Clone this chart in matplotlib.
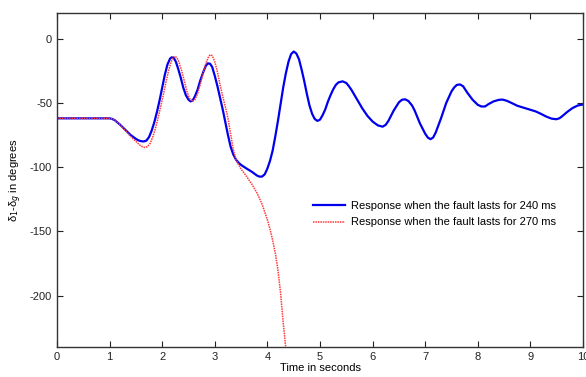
import matplotlib
matplotlib.use("Agg")
import matplotlib.pyplot as plt

plt.rcParams['font.family'] = ['Liberation Sans', 'DejaVu Sans']
plt.rcParams['font.size'] = 8
plt.rcParams['axes.unicode_minus'] = False

# response for 240 ms fault
t_240 = [0.0, 0.5, 1.0, 1.05, 1.1, 1.2, 1.3, 1.4, 1.5, 1.55, 1.6, 1.65, 1.7,
         1.75, 1.8, 1.85, 1.9, 1.95, 2.0, 2.05, 2.1, 2.15, 2.18, 2.22, 2.26,
         2.3, 2.35, 2.4, 2.45, 2.5, 2.54, 2.58, 2.62, 2.67, 2.72, 2.78, 2.83,
         2.87, 2.91, 2.95, 3.0, 3.05, 3.1, 3.15, 3.2, 3.25, 3.3, 3.35, 3.4,
         3.45, 3.5, 3.6, 3.7, 3.75, 3.8, 3.85, 3.9, 3.95, 4.0, 4.05, 4.1, 4.15,
         4.2, 4.25, 4.3, 4.35, 4.4, 4.45, 4.5, 4.55, 4.6, 4.65, 4.7, 4.75, 4.8,
         4.85, 4.9, 4.95, 5.0, 5.05, 5.1, 5.15, 5.2, 5.25, 5.3, 5.35, 5.43,
         5.5, 5.55, 5.6, 5.7, 5.8, 5.9, 6.0, 6.1, 6.19, 6.25, 6.3, 6.4, 6.5,
         6.56, 6.62, 6.68, 6.75, 6.8, 6.9, 7.0, 7.05, 7.1, 7.15, 7.2, 7.3, 7.4,
         7.5, 7.55, 7.6, 7.66, 7.72, 7.8, 7.9, 8.0, 8.07, 8.14, 8.2, 8.3, 8.4,
         8.47, 8.55, 8.65, 8.75, 8.87, 9.0, 9.1, 9.2, 9.3, 9.4, 9.49, 9.55,
         9.6, 9.7, 9.8, 9.9, 10.0]
v_240 = [-62, -62, -62, -62.5, -63.5, -67, -71, -75, -78, -79.2, -79.8, -80,
         -79.3, -76.5, -71.5, -65, -57, -48, -38, -28, -20, -15.5, -14.5, -15,
         -18, -23, -30, -38, -44, -47.5, -48.8, -48, -45, -40, -33, -26, -21,
         -19.2, -19.5, -22, -29, -37, -46, -55, -65, -75, -84, -90, -94, -96.5,
         -98.3, -101, -103.5, -105, -106.5, -107.4, -107.3, -105.5, -101, -95,
         -87, -76, -64, -51, -38, -27, -18, -12, -10, -11.5, -16, -24, -33,
         -43, -52, -58.5, -62.5, -64, -63, -59.5, -55, -49, -44, -39.5, -36,
         -34, -33.2, -34.5, -37, -40, -47, -54, -60, -64.5, -67.5, -68.5, -67,
         -64, -56, -49.5, -47.5, -47.2, -48.5, -52, -56, -66, -74, -77, -78.2,
         -77, -73, -62, -50, -41, -38, -36, -35.6, -37, -42, -47.5, -51.5,
         -52.8, -52.7, -51, -48.8, -47.6, -47.4, -48.3, -50.2, -52.2, -53.7,
         -55.3, -56.6, -58.5, -60.6, -62.2, -62.7, -62, -60.5, -57, -54, -52,
         -51.2]

# response for 270 ms fault
t_270 = [0.0, 0.5, 1.0, 1.05, 1.1, 1.2, 1.3, 1.4, 1.5, 1.55, 1.6, 1.67, 1.72,
         1.77, 1.82, 1.87, 1.92, 1.97, 2.02, 2.07, 2.12, 2.17, 2.21, 2.24,
         2.28, 2.32, 2.37, 2.42, 2.47, 2.52, 2.57, 2.62, 2.67, 2.72, 2.77,
         2.82, 2.87, 2.91, 2.95, 3.0, 3.05, 3.1, 3.15, 3.2, 3.25, 3.3, 3.35,
         3.4, 3.45, 3.5, 3.6, 3.7, 3.8, 3.9, 4.0, 4.05, 4.1, 4.15, 4.2, 4.25,
         4.3, 4.36]
v_270 = [-62, -62, -62, -62.5, -63.5, -67, -71.5, -76, -80, -82, -83.7, -84.7,
         -84, -81.5, -76.5, -70, -62, -53, -44, -34, -25, -18, -14.3, -13.7,
         -14.8, -18.5, -25, -33, -41, -46.5, -48.8, -47.5, -43, -36, -28,
         -20.5, -15, -12.5, -13.2, -18, -26, -36, -45, -53, -62, -74, -86, -94,
         -98, -101.5, -107, -113, -120, -129, -141, -148.5, -157, -167, -180,
         -198, -221, -245]

fig = plt.figure(figsize=(5.86, 3.77), dpi=100)
ax = fig.add_axes([0.0973, 0.0796, 0.8976, 0.8859])

ax.plot(t_240, v_240, color='#0000ee', lw=1.6,
        label='Response when the fault lasts for 240 ms')
ax.plot(t_270, v_270, color='#ff3a3a', lw=1.1, linestyle=(0, (1, 0.6)),
        label='Response when the fault lasts for 270 ms')

ax.set_xlim(0, 10)
ax.set_ylim(-240, 20)
ax.set_xticks(range(0, 11))
ax.set_yticks([0, -50, -100, -150, -200])
ax.tick_params(direction='in', top=True, right=True, length=4, width=0.8,
               labelsize=8, colors='#222222')
for s in ax.spines.values():
    s.set_linewidth(1.0)
    s.set_color('#333333')

ax.set_xlabel('Time in seconds', fontsize=8, labelpad=1)
ax.set_ylabel('δ$_1$-δ$_g$ in degrees', fontsize=8, labelpad=4)

ax.legend(loc='upper left', bbox_to_anchor=(0.468, 0.466), frameon=False,
          fontsize=8, handlelength=2.9, handletextpad=0.5, labelspacing=0.55)

fig.savefig('out.png', dpi=100)
